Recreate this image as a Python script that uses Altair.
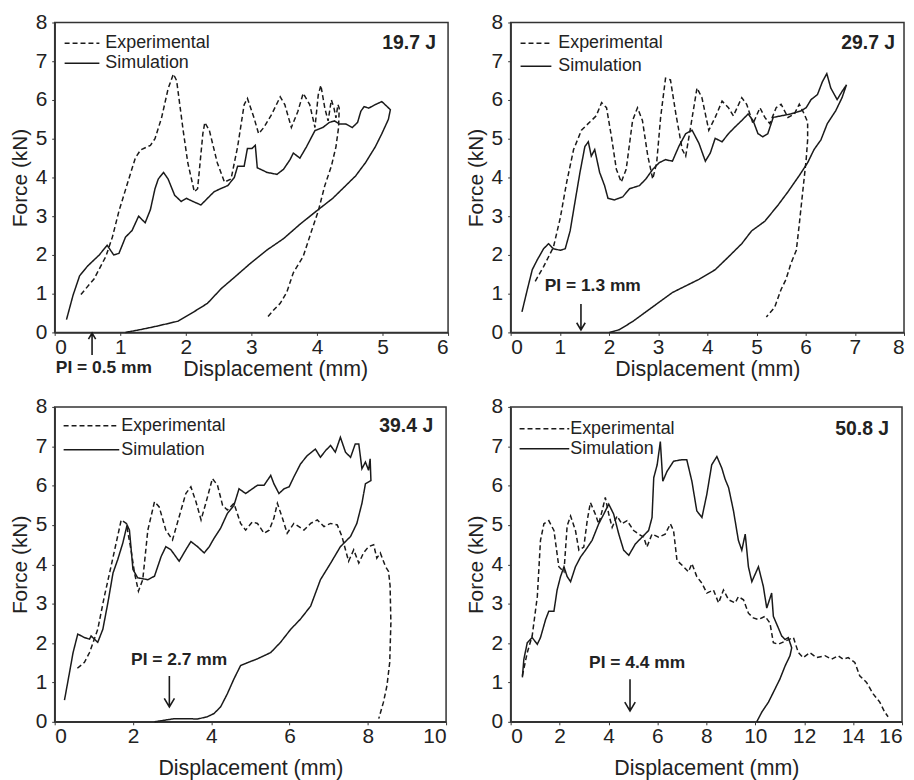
import altair as alt
import pandas as pd

FONT = "Liberation Sans"
INK = "#1a1a1a"

# ---------------- Panel 1: 19.7 J ----------------
p1_exp_x = [0.40, 0.60, 0.78, 0.88, 0.98, 1.13, 1.23, 1.31, 1.46, 1.53, 1.63, 1.73, 1.81, 1.86, 1.96, 2.03, 2.13, 2.18, 2.26, 2.29, 2.36, 2.48, 2.59, 2.69, 2.79, 2.89, 2.94, 3.04, 3.11, 3.19, 3.31, 3.44, 3.51, 3.61, 3.71, 3.79, 3.89, 3.97, 4.02, 4.06, 4.12, 4.17, 4.22, 4.26, 4.29, 4.32, 4.34,
            4.33, 4.29, 4.22, 4.12, 4.02, 3.92, 3.79, 3.64, 3.54, 3.44, 3.34, 3.24]
p1_exp_y = [0.98, 1.38, 1.96, 2.46, 3.13, 3.96, 4.50, 4.71, 4.83, 5.00, 5.54, 6.29, 6.67, 6.50, 5.21, 4.38, 3.63, 3.71, 5.13, 5.42, 5.21, 4.38, 3.88, 3.96, 4.79, 5.88, 6.04, 5.54, 5.13, 5.29, 5.63, 6.08, 5.88, 5.29, 5.71, 6.17, 5.88, 5.29, 6.13, 6.38, 5.79, 5.46, 6.00, 5.79, 5.54, 5.88, 5.79,
            5.29, 4.79, 4.29, 3.79, 3.13, 2.63, 1.96, 1.54, 1.04, 0.75, 0.58, 0.38]
p1_sim_x = [0.18, 0.28, 0.38, 0.50, 0.68, 0.80, 0.90, 0.98, 1.08, 1.18, 1.28, 1.38, 1.46, 1.53, 1.58, 1.66, 1.73, 1.83, 1.93, 2.01, 2.11, 2.23, 2.33, 2.43, 2.53, 2.64, 2.74, 2.79, 2.89, 2.94, 3.01, 3.06, 3.09, 3.24, 3.39, 3.49, 3.59, 3.64, 3.74, 3.84, 3.97, 4.09, 4.19, 4.27, 4.34, 4.44, 4.54, 4.62, 4.67, 4.72, 4.79, 4.89, 4.99, 5.07, 5.12,
            5.09, 4.99, 4.89, 4.74, 4.59, 4.44, 4.24, 3.99, 3.74, 3.49, 3.24, 2.99, 2.74, 2.54, 2.33, 2.13, 1.88, 1.58, 1.33, 1.08]
p1_sim_y = [0.33, 0.96, 1.46, 1.71, 2.00, 2.25, 2.00, 2.04, 2.46, 2.63, 3.00, 2.83, 3.17, 3.71, 3.96, 4.13, 3.96, 3.54, 3.38, 3.46, 3.38, 3.29, 3.46, 3.63, 3.71, 3.79, 4.00, 4.29, 4.29, 4.75, 4.75, 4.83, 4.25, 4.13, 4.08, 4.21, 4.46, 4.63, 4.50, 4.79, 5.21, 5.29, 5.42, 5.46, 5.38, 5.38, 5.29, 5.42, 5.71, 5.83, 5.79, 5.88, 5.96, 5.83, 5.75,
            5.50, 5.13, 4.79, 4.38, 4.04, 3.79, 3.46, 3.13, 2.79, 2.42, 2.13, 1.79, 1.42, 1.13, 0.75, 0.54, 0.29, 0.17, 0.08, 0.00]

# ---------------- Panel 2: 29.7 J ----------------
p2_exp_x = [0.50, 0.67, 0.87, 1.01, 1.14, 1.28, 1.44, 1.61, 1.74, 1.85, 1.95, 2.05, 2.15, 2.25, 2.35, 2.48, 2.58, 2.68, 2.79, 2.89, 2.97, 3.05, 3.15, 3.25, 3.36, 3.49, 3.56, 3.66, 3.79, 3.89, 4.03, 4.16, 4.30, 4.43, 4.53, 4.70, 4.80, 4.93, 5.07, 5.17, 5.27, 5.40, 5.50, 5.64, 5.77, 5.87, 5.97, 6.04,
            6.04, 6.01, 5.94, 5.87, 5.81, 5.70, 5.60, 5.50, 5.37, 5.20]
p2_exp_y = [1.32, 1.70, 2.20, 2.96, 3.88, 4.72, 5.22, 5.43, 5.59, 5.93, 5.80, 5.05, 4.21, 3.88, 4.21, 5.47, 5.80, 5.47, 4.55, 3.96, 4.38, 5.55, 6.56, 6.52, 5.64, 4.72, 4.55, 5.30, 6.31, 6.06, 5.22, 5.55, 5.97, 5.80, 5.59, 6.06, 5.89, 5.39, 5.80, 5.55, 5.39, 5.80, 5.89, 5.55, 5.64, 5.89, 5.64, 5.43,
            4.97, 4.46, 3.63, 2.79, 2.12, 1.78, 1.37, 1.11, 0.65, 0.40]
p2_sim_x = [0.23, 0.34, 0.44, 0.54, 0.67, 0.77, 0.87, 1.01, 1.11, 1.21, 1.31, 1.41, 1.51, 1.58, 1.64, 1.71, 1.81, 1.91, 1.98, 2.11, 2.28, 2.42, 2.62, 2.75, 2.89, 3.02, 3.15, 3.29, 3.42, 3.56, 3.69, 3.83, 3.96, 4.06, 4.16, 4.30, 4.43, 4.56, 4.70, 4.83, 4.93, 5.03, 5.13, 5.23, 5.34, 5.50, 5.70, 5.91, 6.01, 6.11, 6.24, 6.34, 6.43, 6.51, 6.64, 6.74, 6.83,
            6.74, 6.61, 6.44, 6.31, 6.17, 6.04, 5.87, 5.64, 5.44, 5.17, 4.90, 4.70, 4.43, 4.16, 3.83, 3.56, 3.29, 3.02, 2.75, 2.48, 2.21, 2.01]
p2_sim_y = [0.53, 1.11, 1.62, 1.87, 2.16, 2.29, 2.16, 2.12, 2.16, 2.62, 3.38, 4.13, 4.80, 4.92, 4.55, 4.72, 4.13, 3.79, 3.46, 3.42, 3.50, 3.71, 3.79, 3.96, 4.21, 4.38, 4.46, 4.42, 4.80, 5.13, 5.22, 4.88, 4.42, 4.63, 5.01, 4.92, 5.13, 5.30, 5.47, 5.64, 5.47, 5.13, 5.05, 5.13, 5.55, 5.59, 5.64, 5.72, 5.80, 6.01, 6.14, 6.47, 6.68, 6.31, 6.01, 6.22, 6.39,
            6.06, 5.72, 5.39, 4.97, 4.72, 4.38, 4.05, 3.63, 3.29, 2.87, 2.62, 2.29, 1.95, 1.62, 1.37, 1.20, 1.03, 0.78, 0.53, 0.28, 0.07, 0.00]

# ---------------- Panel 3: 39.4 J ----------------
p3_exp_x = [0.58, 0.76, 0.89, 1.10, 1.27, 1.44, 1.57, 1.70, 1.83, 1.95, 2.04, 2.14, 2.25, 2.38, 2.55, 2.67, 2.84, 3.01, 3.18, 3.35, 3.48, 3.61, 3.74, 3.86, 4.03, 4.16, 4.29, 4.41, 4.58, 4.75, 4.88, 5.05, 5.18, 5.35, 5.48, 5.60, 5.69, 5.82, 5.94, 6.11, 6.24, 6.37, 6.54, 6.71, 6.88, 7.05, 7.22, 7.34, 7.43, 7.51, 7.64, 7.77, 7.89, 8.02, 8.15, 8.23, 8.32, 8.45, 8.53, 8.57,
            8.59, 8.56, 8.49, 8.40, 8.28]
p3_exp_y = [1.36, 1.51, 1.76, 2.35, 3.19, 3.95, 4.54, 5.13, 5.04, 4.37, 3.78, 3.32, 3.61, 4.87, 5.59, 5.46, 4.87, 4.62, 5.21, 5.80, 5.97, 5.59, 5.13, 5.55, 6.18, 6.01, 5.50, 5.38, 5.55, 5.04, 4.87, 5.08, 5.04, 4.79, 4.87, 5.17, 5.55, 5.17, 4.79, 5.04, 4.96, 4.87, 5.04, 5.13, 4.96, 5.04, 5.00, 4.71, 4.37, 4.08, 4.37, 4.03, 4.29, 4.45, 4.50, 4.16, 4.29, 3.95, 3.82, 3.45,
            2.52, 1.51, 0.92, 0.50, 0.08]
p3_sim_x = [0.25, 0.38, 0.47, 0.59, 0.76, 0.89, 0.93, 1.10, 1.23, 1.36, 1.49, 1.61, 1.74, 1.85, 1.91, 2.00, 2.12, 2.38, 2.55, 2.72, 2.84, 2.97, 3.18, 3.35, 3.48, 3.65, 3.82, 3.95, 4.07, 4.24, 4.41, 4.58, 4.71, 4.88, 5.05, 5.18, 5.35, 5.52, 5.60, 5.73, 5.86, 5.99, 6.11, 6.28, 6.45, 6.66, 6.79, 6.92, 7.05, 7.17, 7.30, 7.43, 7.56, 7.68, 7.77, 7.85, 7.94, 8.02, 8.06, 8.08,
            7.94, 7.85, 7.72, 7.56, 7.30, 7.05, 6.79, 6.54, 6.28, 6.03, 5.77, 5.52, 5.18, 4.92, 4.75, 4.58, 4.41, 4.24, 4.07, 3.90, 3.65, 3.40, 3.06, 2.80, 2.55]
p3_sim_y = [0.55, 1.26, 1.76, 2.23, 2.14, 2.10, 2.18, 2.02, 2.35, 3.03, 3.78, 4.12, 4.54, 5.00, 4.87, 3.87, 3.66, 3.61, 3.70, 4.20, 4.45, 4.37, 4.08, 4.37, 4.58, 4.45, 4.29, 4.45, 4.66, 4.92, 5.29, 5.50, 5.92, 5.80, 5.92, 6.01, 6.01, 6.26, 6.05, 5.80, 5.92, 5.97, 6.22, 6.55, 6.76, 6.93, 6.72, 6.89, 7.02, 6.85, 7.23, 6.85, 6.72, 7.06, 7.06, 6.43, 6.60, 6.39, 6.68, 6.13,
            6.05, 5.55, 5.04, 4.71, 4.45, 4.03, 3.61, 2.94, 2.61, 2.35, 2.02, 1.76, 1.60, 1.50, 1.43, 1.09, 0.71, 0.38, 0.21, 0.13, 0.07, 0.08, 0.08, 0.04, 0.00]

# ---------------- Panel 4: 50.8 J ----------------
p4_exp_x = [0.48, 0.68, 0.88, 1.09, 1.22, 1.36, 1.56, 1.77, 1.97, 2.18, 2.31, 2.45, 2.65, 2.79, 2.99, 3.13, 3.26, 3.46, 3.60, 3.74, 3.87, 4.01, 4.15, 4.35, 4.55, 4.76, 5.03, 5.23, 5.44, 5.57, 5.78, 6.05, 6.32, 6.53, 6.66, 6.80, 7.07, 7.27, 7.41, 7.61, 7.82, 8.02, 8.29, 8.50, 8.70, 8.91, 9.18, 9.31, 9.52, 9.72, 9.92, 10.13, 10.40, 10.60, 10.74, 10.94, 11.22, 11.56, 11.76, 11.96, 12.23, 12.51, 12.85, 13.12, 13.39, 13.59, 13.80, 14.07, 14.27, 14.55, 14.82, 15.09, 15.29, 15.43]
p4_exp_y = [1.17, 1.76, 2.18, 3.18, 4.61, 5.03, 5.11, 4.86, 3.94, 3.81, 4.98, 5.23, 4.86, 4.36, 4.44, 5.11, 5.57, 5.28, 5.03, 5.36, 5.70, 5.28, 4.94, 5.23, 5.03, 5.11, 4.86, 4.77, 4.69, 4.44, 4.77, 4.69, 4.77, 5.03, 4.86, 4.10, 3.94, 3.81, 4.02, 3.69, 3.52, 3.27, 3.35, 3.02, 3.35, 3.10, 3.02, 3.18, 3.10, 2.76, 2.64, 2.60, 2.68, 2.51, 2.01, 1.97, 2.05, 2.14, 1.76, 1.63, 1.76, 1.63, 1.68, 1.59, 1.68, 1.59, 1.63, 1.51, 1.17, 1.00, 0.71, 0.50, 0.25, 0.13]
p4_sim_x = [0.48, 0.54, 0.68, 0.88, 1.09, 1.22, 1.43, 1.56, 1.77, 1.90, 2.04, 2.18, 2.31, 2.45, 2.65, 2.86, 3.06, 3.33, 3.60, 3.81, 4.01, 4.21, 4.42, 4.62, 4.83, 5.10, 5.37, 5.64, 5.78, 5.85, 5.99, 6.12, 6.22, 6.39, 6.66, 7.00, 7.20, 7.41, 7.61, 7.82, 8.02, 8.22, 8.43, 8.63, 8.77, 8.91, 9.11, 9.31, 9.45, 9.59, 9.72, 9.86, 10.13, 10.33, 10.47, 10.67, 10.74, 10.94, 11.08, 11.22, 11.35, 11.49, 11.42,
            11.22, 11.01, 10.74, 10.54, 10.27, 10.06]
p4_sim_y = [1.13, 1.59, 2.01, 2.14, 1.97, 2.14, 2.60, 2.81, 2.81, 3.35, 3.69, 3.94, 3.69, 3.56, 3.94, 4.19, 4.36, 4.61, 5.03, 5.28, 5.53, 5.28, 4.77, 4.36, 4.23, 4.52, 4.69, 4.86, 5.19, 6.20, 6.53, 7.12, 6.11, 6.36, 6.62, 6.66, 6.66, 6.11, 5.36, 5.19, 5.78, 6.53, 6.74, 6.45, 6.16, 5.95, 5.36, 4.61, 4.36, 4.77, 3.94, 3.56, 3.94, 3.44, 2.89, 3.27, 2.68, 2.39, 2.18, 2.09, 2.14, 1.88, 1.68,
            1.42, 1.09, 0.75, 0.50, 0.25, 0.00]

SERIES = ["Experimental", "Simulation"]
DASHES = [[5, 3], [1, 0]]
ENERGY = ["19.7 J", "29.7 J", "39.4 J", "50.8 J"]
PI_TEXT = ["PI = 0.5 mm", "PI = 1.3 mm", "PI = 2.7 mm", "PI = 4.4 mm"]
X_MAX = [6, 8, 10, 16]
X_STEP = [1, 1, 2, 2]


def make_df(ex, ey, sx, sy):
    rows = []
    for i, (a, b) in enumerate(zip(ex, ey)):
        rows.append({"x": a, "y": b, "series": SERIES[0], "i": i})
    for i, (a, b) in enumerate(zip(sx, sy)):
        rows.append({"x": a, "y": b, "series": SERIES[1], "i": i})
    return pd.DataFrame(rows)


UP = "M0,-1L0,1M-0.33,-0.45L0,-1L0.33,-0.45"
DOWN = "M0,-1L0,1M-0.33,0.45L0,1L0.33,0.45"


def panel(k, df, w, h, pi_xy, arrow_xy, arrow_shape, arrow_size, title_y,
          title_x=None, leg_x0=10, leg_len=35, leg_gap=6, leg_y=(21, 41),
          energy_dx=12, energy_dy=21):
    xmax, step = X_MAX[k], X_STEP[k]
    xaxis_kw = dict(values=list(range(0, xmax + 1, step)), title="Displacement (mm)",
                    titleY=title_y, grid=False)
    if title_x is not None:
        xaxis_kw["titleX"] = title_x
    X = alt.X("x:Q", scale=alt.Scale(domain=[0, xmax], nice=False), axis=alt.Axis(**xaxis_kw))
    Y = alt.Y("y:Q", scale=alt.Scale(domain=[0, 8], nice=False),
              axis=alt.Axis(values=list(range(9)), title="Force (kN)", grid=False))
    lines = alt.Chart(df).mark_line(color=INK, strokeWidth=1.5).encode(
        x=X, y=Y,
        strokeDash=alt.StrokeDash("series:N", scale=alt.Scale(domain=SERIES, range=DASHES), legend=None),
        order="i:Q",
    )
    layers = [lines]
    # in-plot key (sample line + label for each series)
    for s, dash, ly in zip(SERIES, DASHES, leg_y):
        kdf = pd.DataFrame({"t": [s]})
        layers.append(alt.Chart(kdf).mark_rule(color=INK, strokeWidth=1.5, strokeDash=dash).encode(
            x=alt.value(leg_x0), x2=alt.value(leg_x0 + leg_len), y=alt.value(ly)))
        layers.append(alt.Chart(kdf).mark_text(
            align="left", baseline="middle", fontSize=18, font=FONT, color="#222").encode(
            x=alt.value(leg_x0 + leg_len + leg_gap), y=alt.value(ly), text="t:N"))
    energy = alt.Chart(pd.DataFrame({"t": [ENERGY[k]]})).mark_text(
        align="right", baseline="middle", fontSize=19.5, fontWeight="bold", font=FONT, color="#222"
    ).encode(x=alt.value(w - energy_dx), y=alt.value(energy_dy), text="t:N")
    pi_df = pd.DataFrame({"x": [pi_xy[0]], "y": [pi_xy[1]], "t": [PI_TEXT[k]]})
    pi = alt.Chart(pi_df).mark_text(
        align="center", baseline="middle", fontSize=17.5, fontWeight="bold", font=FONT, color="#222"
    ).encode(x=X, y=Y, text="t:N")
    ar_df = pd.DataFrame({"x": [arrow_xy[0]], "y": [arrow_xy[1]]})
    arrow = alt.Chart(ar_df).mark_point(
        shape=arrow_shape, size=arrow_size, filled=False, stroke=INK, strokeWidth=1.6, opacity=1
    ).encode(x=X, y=Y)
    layers += [energy, pi, arrow]
    return alt.layer(*layers).properties(width=w, height=h)


c1 = panel(0, make_df(p1_exp_x, p1_exp_y, p1_sim_x, p1_sim_y), 396, 312,
           (0.75, -0.92), (0.57, -0.30), UP, 484, 26, title_x=222,
           leg_x0=10, leg_len=35, leg_gap=6, leg_y=(21, 41))
c2 = panel(1, make_df(p2_exp_x, p2_exp_y, p2_sim_x, p2_sim_y), 396, 312,
           (1.67, 1.20), (1.43, 0.40), DOWN, 676, 26,
           leg_x0=10, leg_len=31, leg_gap=7, leg_y=(21, 44), energy_dx=9)
c3 = panel(2, make_df(p3_exp_x, p3_exp_y, p3_sim_x, p3_sim_y), 394, 317,
           (3.18, 1.56), (2.93, 0.77), DOWN, 961, 36,
           leg_x0=9, leg_len=56, leg_gap=2, leg_y=(19, 43), energy_dx=13, energy_dy=19)
c4 = panel(3, make_df(p4_exp_x, p4_exp_y, p4_sim_x, p4_sim_y), 394, 317,
           (5.17, 1.49), (4.88, 0.68), DOWN, 1024, 36,
           leg_x0=9, leg_len=50, leg_gap=1, leg_y=(22, 42), energy_dx=13, energy_dy=22)

chart = alt.concat(
    c1, c2, c3, c4, columns=2, bounds="flush", align="each",
    spacing=alt.RowColnumber(row=75, column=63),
).configure(
    padding={"left": 0, "top": 0, "right": 0, "bottom": 0},
    background="white",
).configure_view(stroke="#333", strokeWidth=1.5).configure_axis(
    labelFont=FONT, titleFont=FONT, labelFontSize=21, titleFontSize=21.5,
    titleFontWeight="normal", labelColor="#222", titleColor="#222",
    domainColor="#333", domainWidth=1.5, tickColor="#333", tickSize=3,
).configure_axisX(labelPadding=1).configure_axisY(labelPadding=5, titlePadding=5, titleFontSize=21)

chart.save("out.html", embed_options={"renderer": "svg", "actions": False})
